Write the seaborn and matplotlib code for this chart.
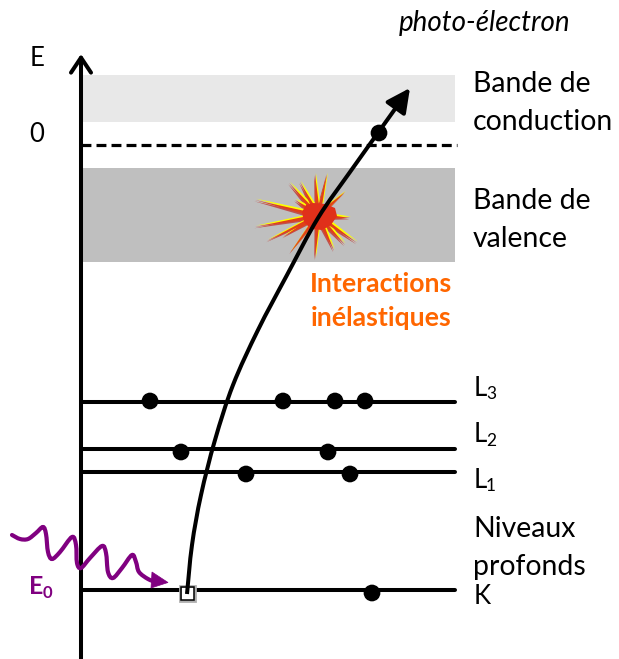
import numpy as np
import pandas as pd
import matplotlib
matplotlib.use("Agg")
import matplotlib.pyplot as plt
from matplotlib.patches import Polygon, PathPatch, Rectangle, FancyArrowPatch
from matplotlib.path import Path
import seaborn as sns

# ---- data (diagram positions, in reference pixels) ----
band_top = [75, 168]
band_bottom = [122, 262]
band_colors = ["#E8E8E8", "#BFBFBF"]

level_names = ["L3", "L2", "L1", "K"]
level_y = [402, 449, 472, 590]
electron_x = [150, 283, 335, 365, 181, 328, 246, 350, 372, 379]
electron_y = [401, 401, 401, 401, 452, 452, 474, 474, 593, 133]

fermi_y = 145
path_x = [187, 192, 201, 215, 233, 258, 287, 318, 350, 380, 410]
path_y = [594, 545, 495, 440, 385, 330, 275, 218, 172, 130, 88]
wave_x = [12, 20, 28, 36, 43, 46, 48, 52, 60, 72, 76, 77, 81, 90, 102, 106, 108, 113, 122, 132, 136, 139, 148, 156]
wave_y = [535, 539, 539, 533, 527, 534, 552, 559, 552, 537, 545, 563, 568, 558, 546, 553, 572, 578, 568, 555, 562, 572, 579, 582]
spike_x = [255, 255, 267, 283, 290, 315, 334, 345, 357, 350, 345, 327, 315, 300, 289, 295]
spike_y = [200, 227, 241, 237, 253, 259, 251, 245, 243, 218, 192, 174, 174, 182, 183, 200]
body_x = [302, 306, 313, 325, 335, 337, 331, 322, 311, 304]
body_y = [212, 205, 203, 204, 208, 216, 225, 230, 229, 222]

sns.set_theme(style="white")
plt.rcParams["font.family"] = ["Lato", "DejaVu Sans"]

fig = plt.figure(figsize=(6.19, 6.59), dpi=100)
ax = fig.add_axes([0, 0, 1, 1])

for top, bottom, color in zip(band_top, band_bottom, band_colors):
    ax.add_patch(Rectangle((81, top), 374, bottom - top, fc=color, ec="none", zorder=1))

lw = 2.9
levels = pd.DataFrame({"y": level_y, "name": level_names})
long_df = pd.concat([levels.assign(x=81), levels.assign(x=455)])
sns.lineplot(data=long_df, x="x", y="y", units="name", estimator=None, color="black",
             lw=lw, ax=ax, zorder=3, legend=False)

ax.plot([81, 457], [fermi_y, fermi_y], color="black", lw=2.3, ls=(0, (3.1, 1.6)), zorder=3)
ax.annotate("", xy=(81, 54), xytext=(81, 659),
            arrowprops=dict(arrowstyle="->,head_length=0.9,head_width=0.6", lw=lw, color="black",
                            shrinkA=0, shrinkB=0), zorder=4)


def smooth(xs, ys):
    p = np.column_stack([xs, ys]).astype(float)
    verts = [p[0]]
    codes = [Path.MOVETO]
    ext = np.vstack([p[0], p, p[-1]])
    for i in range(1, len(ext) - 2):
        verts += [ext[i] + (ext[i + 1] - ext[i - 1]) / 6,
                  ext[i + 1] - (ext[i + 2] - ext[i]) / 6, ext[i + 1]]
        codes += [Path.CURVE4] * 3
    return Path(verts, codes)


# explosion: thin spikes with a yellow upper edge and a dark red lower edge
cx, cy = 318, 216
for dx, dy, col, w in [(-0.8, 1.3, "#C0504D", 1.9), (0.9, -1.4, "#FFFF00", 2.0), (0, 0, "#E0401A", 1.7)]:
    for tx, ty in zip(spike_x, spike_y):
        v = np.array([tx - cx, ty - cy], float)
        u = v / np.hypot(*v)
        n = np.array([-u[1], u[0]])
        b = np.array([cx, cy]) + u * 12
        ax.add_patch(Polygon([(b[0] + n[0] * w + dx, b[1] + n[1] * w + dy),
                              (tx + dx, ty + dy),
                              (b[0] - n[0] * w + dx, b[1] - n[1] * w + dy)],
                             fc=col, ec="none", zorder=5))
ax.add_patch(Polygon(np.column_stack([body_x, body_y]), fc="#E0301A", ec="none", zorder=6))

# photo-hole square
ax.add_patch(Rectangle((179.5, 585.5), 15, 15, fc="white", ec="#B0B0B0", lw=2, zorder=6))
ax.add_patch(Rectangle((180.5, 586.5), 13, 13, fc="none", ec="black", lw=1.1, zorder=6.5))

# electron trajectory
ax.add_patch(PathPatch(smooth(path_x[:-1], path_y[:-1]), fc="none", ec="black", lw=lw, zorder=7))
ax.add_patch(FancyArrowPatch((path_x[-2], path_y[-2]), (path_x[-1], path_y[-1]),
                             arrowstyle="-|>,head_length=0.8,head_width=0.4", mutation_scale=18,
                             color="black", lw=lw, shrinkA=0, shrinkB=0, zorder=7))

# electrons
sns.scatterplot(x=electron_x, y=electron_y, s=145, color="black", edgecolor="none", ax=ax, zorder=8,
                legend=False)

ax.set_xlim(0, 619)
ax.set_ylim(659, 0)
ax.axis("off")

# incoming photon
purple = "#800080"
ax.add_patch(PathPatch(smooth(wave_x, wave_y), fc="none", ec=purple, lw=3, capstyle="round", zorder=9))
ax.add_patch(Polygon([(168, 582.5), (152, 572), (151, 588)], fc=purple, ec=purple, lw=0.5, zorder=9))

# text
fs = 20.4
fs2 = 18.5
def T(x, y, s, **kw):
    kw.setdefault("fontsize", fs)
    kw.setdefault("color", "black")
    kw.setdefault("va", "center")
    ax.text(x, y, s, **kw)

T(485, 23, "photo-électron", style="italic", fontsize=20, ha="center")
T(37, 58, "E", ha="center", fontsize=fs2)
T(37, 135, "0", ha="center", fontsize=fs2)
T(473, 84, "Bande de")
T(473, 122, "conduction")
T(473, 201, "Bande de")
T(473, 239, "valence")
T(473, 529, "Niveaux")
T(473, 567, "profonds")
T(474, 597, "K", fontsize=fs2)
for (y, sub) in [(388, "3"), (435, "2"), (480, "1")]:
    T(474, y, "L", fontsize=fs2)
    T(486, y + 6, sub, fontsize=12.5)
T(381, 284, "Interactions", color="#FF6600", weight="bold", fontsize=19.2, ha="center")
T(381, 318, "inélastiques", color="#FF6600", weight="bold", fontsize=19.2, ha="center")
T(29, 586, "E", color=purple, weight="bold", fontsize=18)
T(43, 593, "0", color=purple, weight="bold", fontsize=12)

fig.savefig("out.png", dpi=100)
